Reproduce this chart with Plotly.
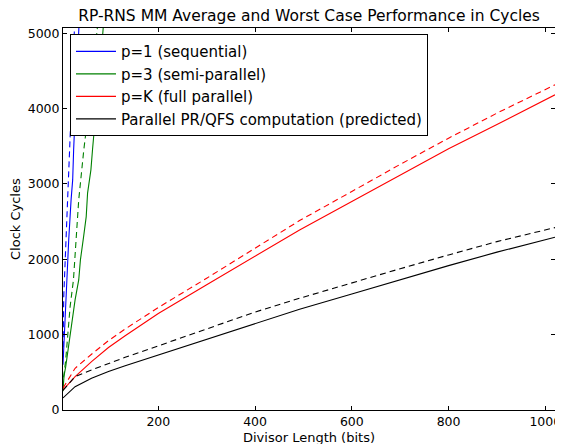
import plotly.graph_objects as go

# ---- data ----
seq_avg_x = [3, 4.3, 8, 11.5, 14.8, 19.7, 23, 25, 30, 36, 40]
seq_avg_y = [600, 797, 1288, 1770, 2257, 2789, 3054, 3453, 4200, 5070, 5700]
seq_wc_x = [3, 4.5, 7, 10, 13, 17, 21, 26, 30]
seq_wc_y = [700, 1500, 1900, 2400, 2900, 3400, 4100, 5070, 5600]

semi_avg_x = [3, 5, 8.6, 14.5, 21, 28, 35.5, 39, 45.6, 51, 53.8, 60.7, 64, 75, 85, 90]
semi_avg_y = [250, 450, 575, 841, 1155, 1461, 1726, 1992, 2301, 2567, 2879, 3187, 3453, 4200, 4980, 5400]
semi_wc_x = [3, 3.6, 8.6, 14.5, 17.7, 24.6, 30, 35.5, 46, 60, 74, 80]
semi_wc_y = [300, 398, 664, 1062, 1372, 1726, 2218, 2789, 3453, 4200, 5070, 5500]

full_x = [3, 28, 62, 97, 131.5, 166, 200, 300, 400, 492, 600, 700, 800, 900, 1020]
full_avg_y = [266, 443, 642, 830, 985, 1135, 1280, 1663, 2042, 2390, 2767, 3115, 3466, 3790, 4183]
full_wc_y = [290, 554, 740, 920, 1075, 1220, 1360, 1749, 2148, 2514, 2900, 3260, 3608, 3940, 4316]

pred_x = [3, 28, 62, 97, 131.5, 166, 200, 300, 400, 492, 600, 700, 800, 900, 1020]
pred_avg_y = [160, 310, 421, 512, 588, 660, 730, 940, 1146, 1337, 1540, 1730, 1916, 2095, 2293]
pred_wc_y = [260, 443, 531, 620, 700, 775, 850, 1080, 1300, 1483, 1690, 1875, 2058, 2235, 2421]

x_ticks = [200, 400, 600, 800, 1000]
y_ticks = [0, 1000, 2000, 3000, 4000, 5000]

names = ["p=1 (sequential)", "p=3 (semi-parallel)", "p=K (full parallel)",
         "Parallel PR/QFS computation (predicted)"]
colors = ["#0000ff", "#008000", "#ff0000", "#000000"]

series = [
    (seq_avg_x, seq_avg_y, seq_wc_x, seq_wc_y),
    (semi_avg_x, semi_avg_y, semi_wc_x, semi_wc_y),
    (full_x, full_avg_y, full_x, full_wc_y),
    (pred_x, pred_avg_y, pred_x, pred_wc_y),
]

fig = go.Figure()
for i, (ax, ay, wx, wy) in enumerate(series):
    fig.add_trace(go.Scatter(x=ax, y=ay, mode="lines", name=names[i],
                             line=dict(color=colors[i], width=1.1),
                             legendgroup=f"g{i}", showlegend=True))
    fig.add_trace(go.Scatter(x=wx, y=wy, mode="lines", name=names[i] + " (worst)",
                             line=dict(color=colors[i], width=1.1, dash="6px,4px"),
                             legendgroup=f"g{i}", showlegend=False))

font_family = "DejaVu Sans"
# the page body adds an 8px offset, so the figure is 8px smaller than the window
fig.update_layout(
    width=555, height=436,
    margin=dict(l=55, r=8, t=20, b=34, autoexpand=False),
    paper_bgcolor="white", plot_bgcolor="white",
    font=dict(family=font_family, size=12.5, color="black"),
    title=dict(text="RP-RNS MM Average and Worst Case Performance in Cycles",
               xref="paper", x=0.5, xanchor="center",
               yref="container", y=0.982, yanchor="middle",
               font=dict(size=15.5, family=font_family)),
    legend=dict(x=0.0142, y=0.984, xanchor="left", yanchor="top",
                bgcolor="white", bordercolor="black", borderwidth=1,
                font=dict(size=15, family=font_family), itemwidth=40,
                tracegroupgap=0, traceorder="grouped"),
    showlegend=True,
    annotations=[
        dict(text="Divisor Length (bits)", xref="paper", yref="paper",
             x=0.5, y=0, yshift=-27, xanchor="center", yanchor="middle",
             showarrow=False, font=dict(size=13, family=font_family)),
        dict(text="Clock Cycles", xref="paper", yref="paper",
             x=0, y=0.5, xshift=-48, xanchor="center", yanchor="middle",
             textangle=-90, showarrow=False, font=dict(size=13, family=font_family)),
    ],
)
axis_common = dict(showgrid=False, zeroline=False, showline=True, linecolor="black",
                   linewidth=1, mirror="ticks", ticks="inside", ticklen=4,
                   tickcolor="black", automargin=False,
                   tickfont=dict(size=12.5, family=font_family))
fig.update_xaxes(range=[3, 1020], tickvals=x_ticks, **axis_common)
fig.update_yaxes(range=[0, 5070], tickvals=y_ticks, **axis_common)

fig.write_html("out.html")
